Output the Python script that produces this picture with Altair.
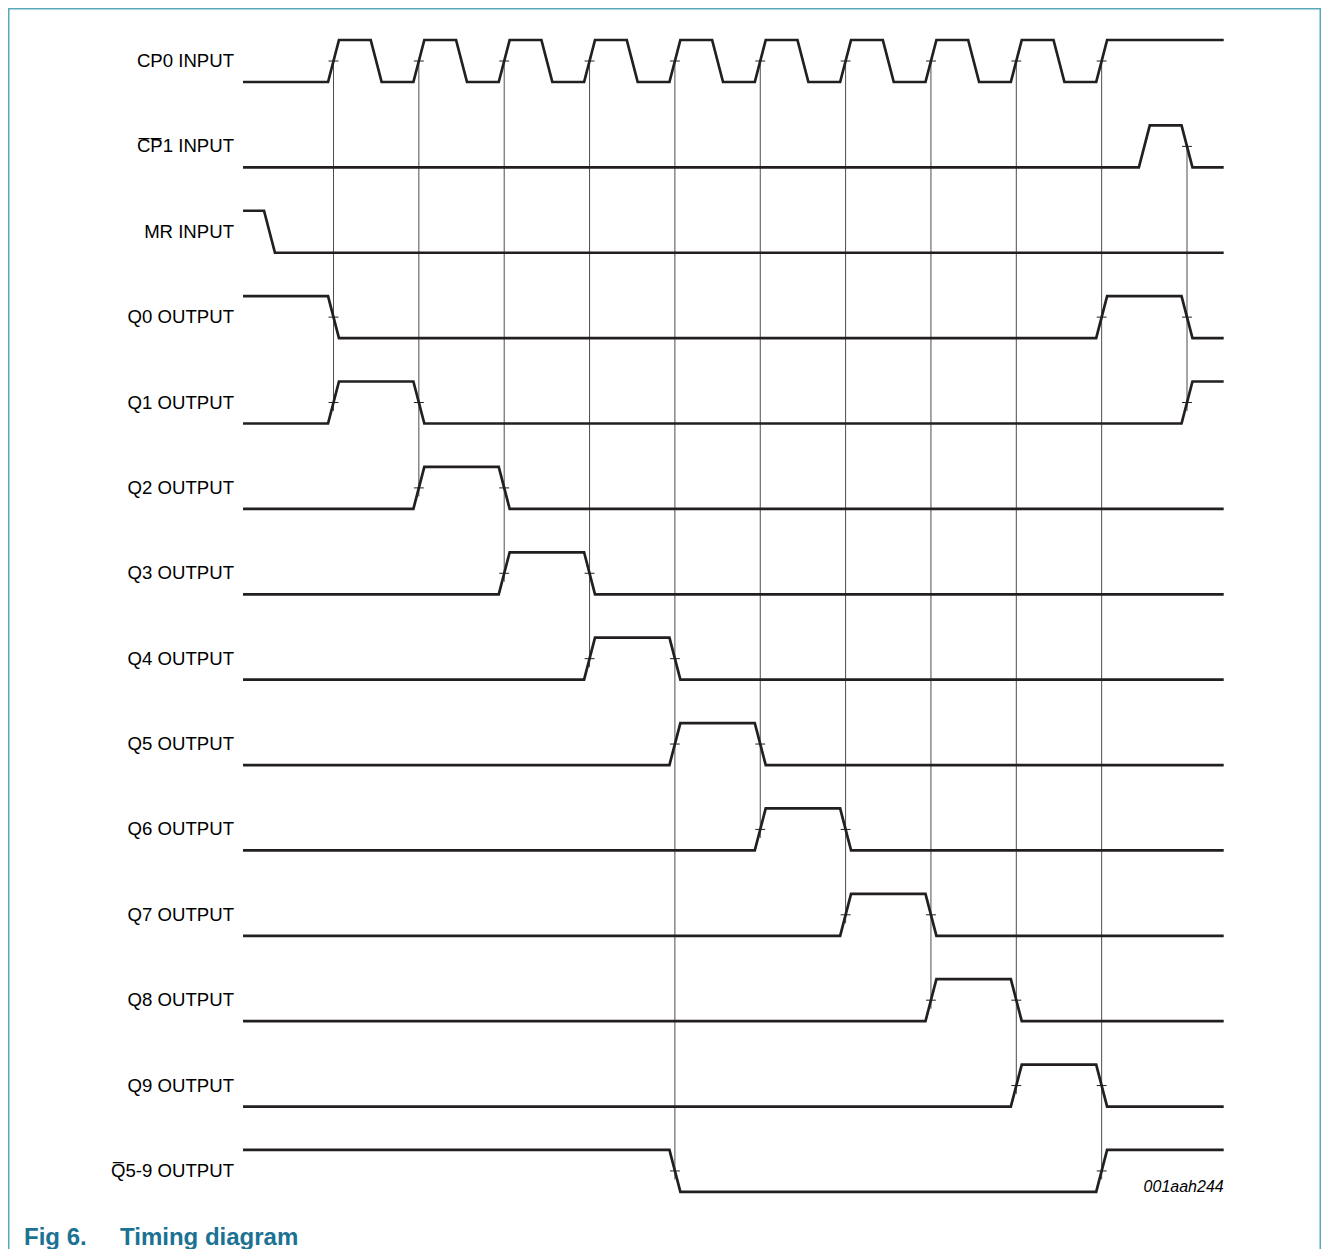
import altair as alt
import pandas as pd

# ---------------- values ----------------
# time axis unit: one CP0 clock period, t = 1 is the first CP0 rising edge
signal_names = [
    "CP0 INPUT",
    "C\u0305P\u03051 INPUT",
    "MR INPUT",
    "Q0 OUTPUT",
    "Q1 OUTPUT",
    "Q2 OUTPUT",
    "Q3 OUTPUT",
    "Q4 OUTPUT",
    "Q5 OUTPUT",
    "Q6 OUTPUT",
    "Q7 OUTPUT",
    "Q8 OUTPUT",
    "Q9 OUTPUT",
    "Q\u03055-9 OUTPUT",
]
initial_levels = [0, 0, 1, 1, 0, 0, 0, 0, 0, 0, 0, 0, 0, 1]
edge_times = [
    [1, 1.5, 2, 2.5, 3, 3.5, 4, 4.5, 5, 5.5, 6, 6.5, 7, 7.5, 8, 8.5, 9, 9.5, 10],
    [10.5, 11],
    [0.25],
    [1, 10, 11],
    [1, 2, 11],
    [2, 3],
    [3, 4],
    [4, 5],
    [5, 6],
    [6, 7],
    [7, 8],
    [8, 9],
    [9, 10],
    [5, 10],
]
marker_times = [1, 2, 3, 4, 5, 6, 7, 8, 9, 10, 11]
marker_first_row = [0, 0, 0, 0, 0, 0, 0, 0, 0, 0, 1]
marker_last_row = [4, 5, 6, 7, 13, 9, 10, 11, 12, 13, 4]
t_begin = -0.06
t_end = 11.43
figure_id = "001aah244"
title_text = "Fig 6.\u00a0\u00a0\u00a0\u00a0\u00a0Timing diagram"

# ---------------- layout / style constants ----------------
W, H = 1313, 1241
PX_T, X0 = 85.35, 240.15      # px per clock period, px of t = 0
PX_ROW, Y0 = 85.38, 53.0      # px per signal row, px of row 0
LABEL_RIGHT = 226             # right edge of the row labels, px
SWING = 0.246                 # half of the logic swing, in rows
EDGE_HALF = 0.064             # half of the edge (rise/fall) duration
TICK_HALF = 0.058
MARKER_EXT = 0.1
ID_ROW = 13.25
FONT = "Liberation Sans"
INK = "#231f20"
TEAL = "#57a9b9"
TITLE_COLOR = "#1b7293"

x_domain = [(0 - X0) / PX_T, (W - X0) / PX_T]
y_domain = [(0 - Y0) / PX_ROW, (H - Y0) / PX_ROW]

# ---------------- tables built from the arrays ----------------
wave_rows = []
for r, (name, lvl, edges) in enumerate(zip(signal_names, initial_levels, edge_times)):
    def lv(level, row=r):
        return row - SWING if level else row + SWING
    pts = [(t_begin, lvl)]
    cur = lvl
    for e in edges:
        pts.append((e - EDGE_HALF, cur))
        cur = 1 - cur
        pts.append((e + EDGE_HALF, cur))
    pts.append((t_end, cur))
    for s, (t, l) in enumerate(pts):
        wave_rows.append({"signal": name, "seq": s, "t": t, "v": lv(l)})
wave_df = pd.DataFrame(wave_rows)

label_df = pd.DataFrame({"v": list(range(len(signal_names))), "label": signal_names})

marker_df = pd.DataFrame({
    "t": marker_times,
    "v": marker_first_row,
    "v2": [b + MARKER_EXT for b in marker_last_row],
})

tick_rows = []
for m, a, b in zip(marker_times, marker_first_row, marker_last_row):
    for r in range(a, b + 1):
        if m in edge_times[r]:
            tick_rows.append({"x1": m - TICK_HALF, "x2": m + TICK_HALF, "v": r})
tick_df = pd.DataFrame(tick_rows)

id_df = pd.DataFrame({"t": [t_end], "v": [ID_ROW], "label": [figure_id]})
frame_df = pd.DataFrame({"k": [0]})

xs = alt.Scale(domain=x_domain, nice=False, zero=False)
ys = alt.Scale(domain=y_domain, nice=False, zero=False, reverse=True)

frame = alt.Chart(frame_df).mark_rect(
    filled=False, stroke=TEAL, strokeWidth=3, clip=True
).encode(
    x=alt.value(0), x2=alt.value(W), y=alt.value(0), y2=alt.value(H + 40)
)

markers = alt.Chart(marker_df).mark_rule(color="#4d4d4d", strokeWidth=1).encode(
    x=alt.X("t:Q", scale=xs, axis=None),
    y=alt.Y("v:Q", scale=ys, axis=None),
    y2="v2:Q",
)

wave = alt.Chart(wave_df).mark_line(
    color=INK, strokeWidth=2.7, strokeJoin="miter"
).encode(
    x=alt.X("t:Q", scale=xs, axis=None),
    y=alt.Y("v:Q", scale=ys, axis=None),
    detail="signal:N",
    order="seq:Q",
)

ticks = alt.Chart(tick_df).mark_rule(color=INK, strokeWidth=1).encode(
    x=alt.X("x1:Q", scale=xs, axis=None),
    x2="x2:Q",
    y=alt.Y("v:Q", scale=ys, axis=None),
)

labels = alt.Chart(label_df).mark_text(
    font=FONT, fontSize=18.6, align="right", baseline="middle", color="#000000"
).encode(
    x=alt.value(LABEL_RIGHT),
    y=alt.Y("v:Q", scale=ys, axis=None),
    text="label:N",
)

id_text = alt.Chart(id_df).mark_text(
    font=FONT, fontSize=16, fontStyle="italic", align="right",
    baseline="alphabetic", color="#000000"
).encode(
    x=alt.X("t:Q", scale=xs, axis=None),
    y=alt.Y("v:Q", scale=ys, axis=None),
    text="label:N",
)

chart = alt.layer(frame, markers, wave, ticks, labels, id_text).properties(
    width=W,
    height=H,
    padding=0,
    autosize=alt.AutoSizeParams(type="none"),
    title=alt.TitleParams(
        text=title_text,
        orient="bottom",
        anchor="start",
        frame="group",
        offset=-4,
        dx=16,
        baseline="alphabetic",
        font=FONT,
        fontSize=24,
        fontWeight="bold",
        color=TITLE_COLOR,
    ),
).configure_view(strokeWidth=0).configure(background="#ffffff")

chart.save("out.html", embed_options={"renderer": "svg", "actions": False})
